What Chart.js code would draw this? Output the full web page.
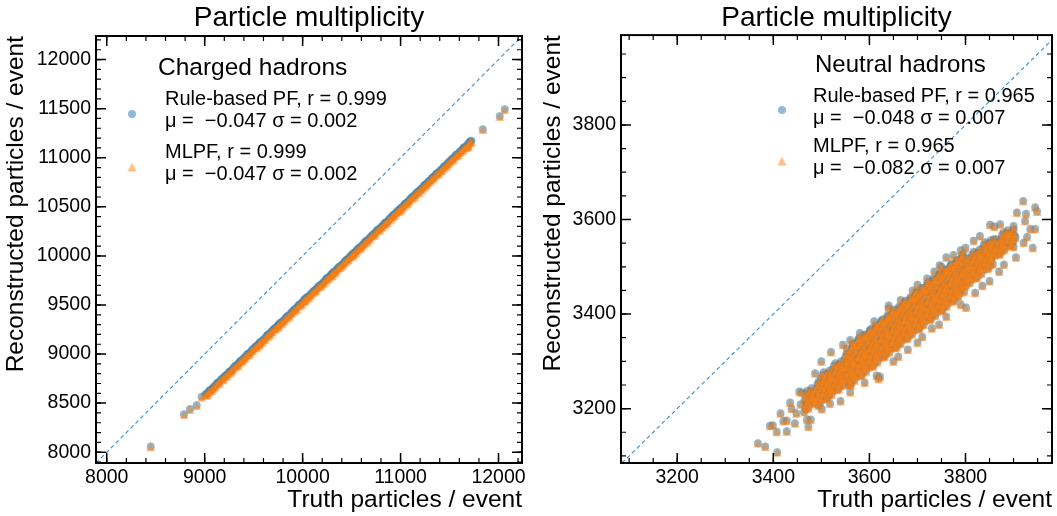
<!DOCTYPE html>
<html>
<head>
<meta charset="utf-8">
<script src="https://cdn.jsdelivr.net/npm/chart.js@4.4.1/dist/chart.umd.min.js"></script>
<style>
  html, body { margin: 0; padding: 0; background: #fff; }
  #wrap { position: relative; width: 1057px; height: 516px; }
  canvas { position: absolute; top: 0; }
  #c1 { left: 0; }
  #c2 { left: 530px; }
</style>
</head>
<body>
<div id="wrap">
  <canvas id="c1" width="530" height="516"></canvas>
  <canvas id="c2" width="527" height="516"></canvas>
</div>
<script>
// --- Data: charged hadrons (truth vs reconstructed, per event) ---
const chTruth = [
  8449, 8789, 8850, 8918, 8969,
  9005, 9030, 9052, 9078, 9104, 9131, 9150, 9181, 9203, 9228, 9257, 9279,
  9306, 9332, 9355, 9377, 9402, 9428, 9451, 9480, 9506, 9529, 9555, 9578,
  9604, 9631, 9653, 9680, 9705, 9727, 9754, 9779, 9803, 9830, 9852, 9878,
  9906, 9928, 9955, 9980, 10004, 10031, 10053, 10077, 10105, 10128, 10156, 10179,
  10203, 10231, 10252, 10280, 10306, 10329, 10354, 10378, 10402, 10430, 10455, 10479,
  10505, 10528, 10553, 10580, 10604, 10630, 10652, 10677, 10706, 10729, 10755, 10778,
  10803, 10831, 10852, 10879, 10905, 10928, 10954, 10981, 11003, 11030, 11055, 11078,
  11106, 11129, 11152, 11180, 11203, 11231, 11253, 11278, 11305, 11330, 11356, 11377,
  11404, 11429, 11452, 11479, 11506, 11530, 11555, 11576, 11603, 11631, 11650, 11680,
  11706, 11724, 11840, 12013, 12064,
  9560, 10020, 10510, 11000, 11690, 10300, 9750,
  9017, 9042, 9066, 9091, 9117, 9142, 9166, 9191, 9217, 9242, 9266, 9291,
  9317, 9342, 9366, 9391, 9417, 9442, 9466, 9491, 9517, 9542, 9566, 9591,
  9617, 9642, 9666, 9691, 9717, 9742, 9766, 9791, 9817, 9842, 9866, 9891,
  9917, 9942, 9966, 9991, 10017, 10042, 10066, 10091, 10117, 10142, 10166, 10191,
  10217, 10242, 10266, 10291, 10317, 10342, 10366, 10391, 10417, 10442, 10466, 10491,
  10517, 10542, 10566, 10591, 10617, 10642, 10666, 10691, 10717, 10742, 10766, 10791,
  10817, 10842, 10866, 10891, 10917, 10942, 10966, 10991, 11017, 11042, 11066, 11091,
  11117, 11142, 11166, 11191, 11217, 11242, 11266, 11291, 11317, 11342, 11366, 11391,
  11417, 11442, 11466, 11491, 11517, 11542, 11566, 11591, 11617, 11642, 11666, 11691,
  11715
];
const chRecoPF = [
  8057, 8387, 8441, 8478, 8566,
  8588, 8597, 8630, 8647, 8670, 8708, 8718, 8750, 8775, 8789, 8821, 8838,
  8872, 8886, 8916, 8934, 8962, 8990, 9005, 9039, 9062, 9079, 9110, 9124,
  9150, 9184, 9201, 9230, 9253, 9268, 9298, 9320, 9340, 9372, 9386, 9416,
  9443, 9460, 9492, 9510, 9538, 9557, 9583, 9605, 9632, 9652, 9680, 9702,
  9721, 9752, 9776, 9796, 9826, 9840, 9869, 9888, 9911, 9944, 9962, 9989,
  10015, 10030, 10058, 10084, 10104, 10133, 10153, 10175, 10206, 10222, 10253, 10272,
  10296, 10324, 10339, 10369, 10390, 10416, 10440, 10462, 10489, 10511, 10536, 10553,
  10586, 10605, 10629, 10654, 10680, 10702, 10725, 10750, 10771, 10800, 10824, 10840,
  10870, 10889, 10916, 10940, 10962, 10990, 11012, 11030, 11060, 11080, 11106, 11127,
  11160, 11172, 11291, 11423, 11494,
  9098, 9560, 10005, 10478, 11112, 9805, 9285,
  8590, 8622, 8634, 8666, 8692, 8710, 8741, 8754, 8781, 8813, 8825, 8857,
  8883, 8901, 8932, 8945, 8971, 9003, 9015, 9047, 9074, 9092, 9123, 9136,
  9162, 9194, 9206, 9238, 9264, 9282, 9313, 9326, 9352, 9384, 9396, 9428,
  9455, 9473, 9504, 9517, 9543, 9575, 9587, 9619, 9645, 9663, 9694, 9707,
  9734, 9766, 9778, 9810, 9836, 9854, 9885, 9898, 9924, 9956, 9968, 10000,
  10027, 10045, 10076, 10089, 10115, 10147, 10159, 10191, 10217, 10235, 10266, 10279,
  10305, 10337, 10349, 10381, 10408, 10426, 10457, 10470, 10496, 10528, 10540, 10572,
  10598, 10616, 10647, 10660, 10687, 10719, 10731, 10763, 10789, 10807, 10838, 10851,
  10877, 10909, 10921, 10953, 10980, 10998, 11029, 11042, 11068, 11100, 11112, 11144,
  11166
];
const chRecoML = [
  8055, 8383, 8436, 8475, 8560,
  8584, 8590, 8628, 8641, 8667, 8700, 8713, 8746, 8769, 8786, 8814, 8834,
  8867, 8882, 8909, 8930, 8957, 8986, 8999, 9034, 9058, 9072, 9106, 9119,
  9146, 9177, 9197, 9224, 9249, 9262, 9294, 9313, 9336, 9365, 9382, 9411,
  9439, 9453, 9488, 9505, 9534, 9550, 9579, 9600, 9628, 9645, 9676, 9697,
  9717, 9745, 9772, 9791, 9822, 9833, 9865, 9883, 9907, 9937, 9958, 9984,
  10011, 10023, 10054, 10079, 10100, 10126, 10149, 10170, 10202, 10215, 10249, 10267,
  10292, 10317, 10335, 10364, 10386, 10409, 10436, 10457, 10485, 10504, 10532, 10548,
  10582, 10598, 10625, 10649, 10676, 10695, 10721, 10745, 10767, 10793, 10820, 10835,
  10866, 10882, 10912, 10935, 10958, 10983, 11008, 11025, 11056, 11073, 11102, 11122,
  11156, 11165, 11288, 11420, 11490,
  9094, 9553, 10001, 10473, 11108, 9800, 9281,
  8583, 8612, 8628, 8657, 8685, 8700, 8735, 8745, 8774, 8803, 8819, 8848,
  8876, 8891, 8926, 8936, 8964, 8993, 9009, 9038, 9067, 9082, 9117, 9127,
  9155, 9184, 9200, 9229, 9257, 9272, 9307, 9317, 9345, 9374, 9390, 9419,
  9448, 9463, 9498, 9508, 9536, 9565, 9581, 9610, 9638, 9653, 9688, 9698,
  9727, 9756, 9772, 9801, 9829, 9844, 9879, 9889, 9917, 9946, 9962, 9991,
  10020, 10035, 10070, 10080, 10108, 10137, 10153, 10182, 10210, 10225, 10260, 10270,
  10298, 10327, 10343, 10372, 10401, 10416, 10451, 10461, 10489, 10518, 10534, 10563,
  10591, 10606, 10641, 10651, 10680, 10709, 10725, 10754, 10782, 10797, 10832, 10842,
  10870, 10899, 10915, 10944, 10973, 10988, 11023, 11033, 11061, 11090, 11106, 11135,
  11158
];
const chRange = [7890, 12240];
const chXTicks = [8000, 9000, 10000, 11000, 12000];
const chYTicks = [8000, 8500, 9000, 9500, 10000, 10500, 11000, 11500, 12000];

// --- Data: neutral hadrons, [truth, reco]; PF and MLPF clouds coincide at this scale ---
const nhPoints = [
  // dense band
  [3464,3193],[3467,3206],[3465,3219],[3468,3232],
  [3476,3209],[3479,3223],[3477,3237],
  [3488,3213],[3491,3226],[3489,3239],[3492,3252],
  [3500,3219],[3503,3232],[3501,3245],[3504,3258],[3502,3271],
  [3512,3222],[3515,3235],[3513,3248],[3516,3261],[3514,3274],
  [3524,3238],[3527,3251],[3525,3264],[3528,3277],[3526,3290],
  [3536,3242],[3539,3255],[3537,3268],[3540,3281],[3538,3294],
  [3548,3258],[3551,3271],[3549,3284],[3552,3297],[3550,3310],
  [3560,3252],[3563,3265],[3561,3278],[3564,3291],[3562,3304],[3559,3317],[3565,3330],
  [3572,3268],[3575,3281],[3573,3294],[3576,3307],[3574,3320],[3571,3333],[3577,3344],
  [3584,3271],[3587,3284],[3585,3297],[3588,3310],[3586,3323],[3583,3336],[3589,3349],
  [3596,3287],[3599,3300],[3597,3313],[3600,3326],[3598,3339],[3595,3352],[3601,3363],
  [3608,3291],[3611,3304],[3609,3317],[3612,3330],[3610,3343],[3607,3356],[3613,3369],
  [3620,3307],[3623,3320],[3621,3333],[3624,3346],[3622,3359],[3619,3372],[3625,3383],
  [3632,3311],[3635,3324],[3633,3337],[3636,3350],[3634,3363],[3631,3376],[3637,3389],
  [3644,3327],[3647,3340],[3645,3353],[3648,3366],[3646,3379],[3643,3392],[3649,3403],
  [3656,3330],[3659,3343],[3657,3356],[3660,3369],[3658,3382],[3655,3395],[3661,3408],
  [3668,3346],[3671,3359],[3669,3372],[3672,3385],[3670,3398],[3667,3411],[3673,3422],
  [3680,3350],[3683,3363],[3681,3376],[3684,3389],[3682,3402],[3679,3415],[3685,3428],
  [3692,3366],[3695,3379],[3693,3392],[3696,3405],[3694,3418],[3691,3431],[3697,3442],
  [3704,3370],[3707,3383],[3705,3396],[3708,3409],[3706,3422],[3703,3435],[3709,3448],
  [3716,3386],[3719,3399],[3717,3412],[3720,3425],[3718,3438],[3715,3451],[3721,3462],
  [3728,3390],[3731,3403],[3729,3416],[3732,3429],[3730,3442],[3727,3455],[3733,3468],
  [3740,3405],[3743,3418],[3741,3431],[3744,3444],[3742,3457],[3739,3470],[3745,3481],
  [3752,3409],[3755,3422],[3753,3435],[3756,3448],[3754,3461],[3751,3474],[3757,3487],
  [3764,3425],[3767,3438],[3765,3451],[3768,3464],[3766,3477],[3763,3490],[3769,3501],
  [3776,3429],[3779,3442],[3777,3455],[3780,3468],[3778,3481],[3775,3494],[3781,3507],
  [3788,3445],[3791,3458],[3789,3471],[3792,3484],[3790,3497],[3787,3510],[3793,3521],
  [3800,3459],[3803,3472],[3801,3485],[3804,3498],[3802,3511],
  [3812,3474],[3815,3487],[3813,3500],[3816,3513],[3814,3526],
  [3824,3478],[3827,3491],[3825,3504],[3828,3517],[3826,3530],
  [3836,3494],[3839,3507],[3837,3520],[3840,3533],[3838,3546],
  [3848,3498],[3851,3511],[3849,3524],[3852,3537],[3850,3550],
  [3860,3524],[3863,3538],[3861,3552],
  [3872,3528],[3875,3541],[3873,3554],[3876,3567],
  [3884,3543],[3887,3557],[3885,3571],
  [3896,3547],[3899,3560],[3897,3573],[3900,3586],
  [3473,3201],[3470,3214],[3474,3227],
  [3485,3211],[3482,3224],[3486,3237],
  [3497,3211],[3494,3224],[3498,3237],[3495,3250],[3499,3263],
  [3509,3221],[3506,3234],[3510,3247],[3507,3260],[3511,3273],
  [3521,3230],[3518,3243],[3522,3256],[3519,3269],[3523,3282],
  [3533,3240],[3530,3253],[3534,3266],[3531,3279],[3535,3292],
  [3545,3250],[3542,3263],[3546,3276],[3543,3289],[3547,3302],
  [3557,3250],[3554,3263],[3558,3276],[3555,3289],[3559,3302],[3556,3315],[3553,3327],
  [3569,3260],[3566,3273],[3570,3286],[3567,3299],[3571,3312],[3568,3325],[3565,3337],
  [3581,3270],[3578,3283],[3582,3296],[3579,3309],[3583,3322],[3580,3335],[3577,3347],
  [3593,3279],[3590,3292],[3594,3305],[3591,3318],[3595,3331],[3592,3344],[3589,3356],
  [3605,3289],[3602,3302],[3606,3315],[3603,3328],[3607,3341],[3604,3354],[3601,3366],
  [3617,3299],[3614,3312],[3618,3325],[3615,3338],[3619,3351],[3616,3364],[3613,3376],
  [3629,3309],[3626,3322],[3630,3335],[3627,3348],[3631,3361],[3628,3374],[3625,3386],
  [3641,3319],[3638,3332],[3642,3345],[3639,3358],[3643,3371],[3640,3384],[3637,3396],
  [3653,3329],[3650,3342],[3654,3355],[3651,3368],[3655,3381],[3652,3394],[3649,3406],
  [3665,3338],[3662,3351],[3666,3364],[3663,3377],[3667,3390],[3664,3403],[3661,3415],
  [3677,3348],[3674,3361],[3678,3374],[3675,3387],[3679,3400],[3676,3413],[3673,3425],
  [3689,3358],[3686,3371],[3690,3384],[3687,3397],[3691,3410],[3688,3423],[3685,3435],
  [3701,3368],[3698,3381],[3702,3394],[3699,3407],[3703,3420],[3700,3433],[3697,3445],
  [3713,3378],[3710,3391],[3714,3404],[3711,3417],[3715,3430],[3712,3443],[3709,3455],
  [3725,3388],[3722,3401],[3726,3414],[3723,3427],[3727,3440],[3724,3453],[3721,3465],
  [3737,3397],[3734,3410],[3738,3423],[3735,3436],[3739,3449],[3736,3462],[3733,3474],
  [3749,3407],[3746,3420],[3750,3433],[3747,3446],[3751,3459],[3748,3472],[3745,3484],
  [3761,3417],[3758,3430],[3762,3443],[3759,3456],[3763,3469],[3760,3482],[3757,3494],
  [3773,3427],[3770,3440],[3774,3453],[3771,3466],[3775,3479],[3772,3492],[3769,3504],
  [3785,3437],[3782,3450],[3786,3463],[3783,3476],[3787,3489],[3784,3502],[3781,3514],
  [3797,3447],[3794,3460],[3798,3473],[3795,3486],[3799,3499],[3796,3512],[3793,3524],
  [3809,3467],[3806,3480],[3810,3493],[3807,3506],[3811,3519],
  [3821,3476],[3818,3489],[3822,3502],[3819,3515],[3823,3528],
  [3833,3486],[3830,3499],[3834,3512],[3831,3525],[3835,3538],
  [3845,3496],[3842,3509],[3846,3522],[3843,3535],[3847,3548],
  [3857,3506],[3854,3519],[3858,3532],[3855,3545],[3859,3558],
  [3869,3526],[3866,3539],[3870,3552],
  [3881,3536],[3878,3549],[3882,3562],
  [3893,3545],[3890,3558],[3894,3571],
  [3467,3199],[3470,3212],[3468,3225],[3471,3238],
  [3479,3215],[3482,3229],[3480,3243],
  [3491,3219],[3494,3232],[3492,3245],[3495,3258],
  [3503,3225],[3506,3238],[3504,3251],[3507,3264],[3505,3277],
  [3515,3228],[3518,3241],[3516,3254],[3519,3267],[3517,3280],
  [3527,3244],[3530,3257],[3528,3270],[3531,3283],[3529,3296],
  [3539,3248],[3542,3261],[3540,3274],[3543,3287],[3541,3300],
  [3551,3264],[3554,3277],[3552,3290],[3555,3303],[3553,3316],
  [3563,3258],[3566,3271],[3564,3284],[3567,3297],[3565,3310],[3562,3323],[3568,3336],
  [3575,3274],[3578,3287],[3576,3300],[3579,3313],[3577,3326],[3574,3339],[3580,3350],
  [3587,3277],[3590,3290],[3588,3303],[3591,3316],[3589,3329],[3586,3342],[3592,3355],
  [3599,3293],[3602,3306],[3600,3319],[3603,3332],[3601,3345],[3598,3358],[3604,3369],
  [3611,3297],[3614,3310],[3612,3323],[3615,3336],[3613,3349],[3610,3362],[3616,3375],
  [3623,3313],[3626,3326],[3624,3339],[3627,3352],[3625,3365],[3622,3378],[3628,3389],
  [3635,3317],[3638,3330],[3636,3343],[3639,3356],[3637,3369],[3634,3382],[3640,3395],
  [3647,3333],[3650,3346],[3648,3359],[3651,3372],[3649,3385],[3646,3398],[3652,3409],
  [3659,3336],[3662,3349],[3660,3362],[3663,3375],[3661,3388],[3658,3401],[3664,3414],
  [3671,3352],[3674,3365],[3672,3378],[3675,3391],[3673,3404],[3670,3417],[3676,3428],
  [3683,3356],[3686,3369],[3684,3382],[3687,3395],[3685,3408],[3682,3421],[3688,3434],
  [3695,3372],[3698,3385],[3696,3398],[3699,3411],[3697,3424],[3694,3437],[3700,3448],
  [3707,3376],[3710,3389],[3708,3402],[3711,3415],[3709,3428],[3706,3441],[3712,3454],
  [3719,3392],[3722,3405],[3720,3418],[3723,3431],[3721,3444],[3718,3457],[3724,3468],
  [3731,3396],[3734,3409],[3732,3422],[3735,3435],[3733,3448],[3730,3461],[3736,3474],
  [3743,3411],[3746,3424],[3744,3437],[3747,3450],[3745,3463],[3742,3476],[3748,3487],
  [3755,3415],[3758,3428],[3756,3441],[3759,3454],[3757,3467],[3754,3480],[3760,3493],
  [3767,3431],[3770,3444],[3768,3457],[3771,3470],[3769,3483],[3766,3496],[3772,3507],
  [3779,3435],[3782,3448],[3780,3461],[3783,3474],[3781,3487],[3778,3500],[3784,3513],
  [3791,3451],[3794,3464],[3792,3477],[3795,3490],[3793,3503],[3790,3516],[3796,3527],
  [3803,3465],[3806,3478],[3804,3491],[3807,3504],[3805,3517],
  [3815,3480],[3818,3493],[3816,3506],[3819,3519],[3817,3532],
  [3827,3484],[3830,3497],[3828,3510],[3831,3523],[3829,3536],
  [3839,3500],[3842,3513],[3840,3526],[3843,3539],[3841,3552],
  [3851,3504],[3854,3517],[3852,3530],[3855,3543],[3853,3556],
  [3863,3530],[3866,3544],[3864,3558],
  [3875,3534],[3878,3547],[3876,3560],[3879,3573],
  [3887,3549],[3890,3563],[3888,3577],
  [3899,3553],[3902,3566],[3900,3579],
  // scattered events, low end
  [3368,3127],[3383,3120],[3408,3108],[3399,3165],[3407,3151],[3421,3174],[3428,3152],
  [3445,3169],[3435,3213],[3454,3236],[3470,3177],[3473,3162],[3438,3200],[3457,3209],
  [3494,3206],[3501,3199],[3518,3211],[3540,3216],[3428,3175],[3478,3177],[3393,3164],
  [3459,3234],[3483,3220],[3561,3250],[3619,3263],[3448,3190],[3415,3190],
  // scattered events, high end
  [3920,3639],[3945,3626],[3949,3617],[3907,3615],[3926,3612],[3924,3597],[3935,3580],
  [3945,3580],[3928,3563],[3940,3540],[3921,3551],[3900,3542],[3904,3562],[3890,3569],
  [3872,3590],[3851,3589],[3817,3555],[3760,3520],[3746,3503],[3801,3414],[3640,3418],
  [3622,3268],[3487,3275],
  // band edges
  [3560,3235],[3590,3255],[3615,3270],[3650,3300],[3680,3325],[3700,3340],[3730,3370],
  [3760,3395],[3790,3420],[3820,3445],[3850,3470],[3880,3505],[3660,3310],[3710,3352],
  [3745,3378],[3835,3460],[3870,3490],[3905,3520],
  [3520,3320],[3545,3335],[3580,3360],[3610,3385],[3640,3412],[3665,3430],[3690,3450],
  [3720,3475],[3750,3500],[3775,3525],[3800,3540],[3830,3565],[3860,3585],[3500,3300],
  [3560,3345],[3700,3462],[3735,3490],[3790,3535]
];
const nhXRange = [3083, 3980];
const nhYRange = [3085, 3990];
const nhTicks = [3200, 3400, 3600, 3800];

// --- Style ---
const FONT = "'Liberation Sans', Arial, Helvetica, sans-serif";
const BLUE = "rgba(31,119,180,0.5)";
const ORANGE = "rgba(255,127,14,0.5)";
const TRI = 9; // triangle marker: base = height, like matplotlib '^'

function triangleMarker(size, color) {
  const c = document.createElement("canvas");
  c.width = c.height = size + 2;
  const g = c.getContext("2d");
  g.fillStyle = color;
  g.beginPath();
  g.moveTo(1 + size / 2, 1);
  g.lineTo(1 + size, 1 + size);
  g.lineTo(1, 1 + size);
  g.closePath();
  g.fill();
  return c;
}
const triImg = triangleMarker(TRI, ORANGE);

// inward major/minor ticks on all four sides + frame
const framePlugin = {
  id: "frame",
  afterDatasetsDraw(chart, args, opts) {
    const { ctx, chartArea: a, scales } = chart;
    ctx.save();
    ctx.strokeStyle = "#000";
    const tick = (s, v, len) => {
      const p = s.getPixelForValue(v);
      ctx.beginPath();
      if (s.isHorizontal()) {
        ctx.moveTo(p, a.bottom); ctx.lineTo(p, a.bottom - len);
        ctx.moveTo(p, a.top); ctx.lineTo(p, a.top + len);
      } else {
        ctx.moveTo(a.left, p); ctx.lineTo(a.left + len, p);
        ctx.moveTo(a.right, p); ctx.lineTo(a.right - len, p);
      }
      ctx.stroke();
    };
    for (const [id, step] of [["x", opts.xMinor], ["y", opts.yMinor]]) {
      const s = scales[id];
      ctx.lineWidth = 1.2;
      for (let v = Math.ceil(s.min / step) * step; v <= s.max; v += step) tick(s, v, 5);
      ctx.lineWidth = 1.5;
      s.ticks.forEach((t) => tick(s, t.value, 10));
    }
    ctx.lineWidth = 2;
    ctx.strokeRect(a.left, a.top, a.right - a.left, a.bottom - a.top);
    ctx.restore();
  },
};

// legend with title and two-line entries, placed relative to the chart area
const legendPlugin = {
  id: "legendBox",
  afterDraw(chart, args, o) {
    const { ctx, chartArea: a } = chart;
    ctx.save();
    ctx.fillStyle = "#000";
    ctx.textBaseline = "alphabetic";
    ctx.textAlign = "left";
    ctx.font = `${o.titleSize}px ${FONT}`;
    ctx.fillText(o.title, a.left + o.titleX, a.top + o.titleY);
    ctx.font = `20px ${FONT}`;
    o.entries.forEach((e) => {
      e.lines.forEach((t, i) => ctx.fillText(t, a.left + o.textX, a.top + e.y + i * 21.5));
      const mx = a.left + o.markX, my = a.top + e.my;
      if (e.style === "triangle") {
        ctx.drawImage(triImg, mx - triImg.width / 2, my - triImg.height / 2);
      } else {
        ctx.fillStyle = e.color;
        ctx.beginPath();
        ctx.arc(mx, my, 4, 0, Math.PI * 2);
        ctx.fill();
        ctx.fillStyle = "#000";
      }
    });
    ctx.restore();
  },
};

function makeChart(id, c) {
  const tickFont = { family: FONT, size: 19.5 };
  const titleFont = { family: FONT, size: 24.5 };
  return new Chart(document.getElementById(id), {
    type: "scatter",
    data: {
      datasets: [
        { label: "Rule-based PF", data: c.pf, backgroundColor: BLUE, pointRadius: 4, borderWidth: 0, order: 3 },
        { label: "MLPF", data: c.ml, pointStyle: triImg, pointRadius: 4.5, borderWidth: 0, order: 2 },
        {
          label: "diag", data: c.diag.map((v) => ({ x: v, y: v })), showLine: true, pointRadius: 0,
          borderColor: "#3b8bc9", borderWidth: 1.1, borderDash: [4, 3], order: 1,
        },
      ],
    },
    options: {
      responsive: false,
      animation: false,
      events: [],
      layout: { padding: { top: 0, right: c.padRight, left: 0, bottom: 0 } },
      plugins: {
        legend: { display: false },
        tooltip: { enabled: false },
        title: {
          display: true, text: "Particle multiplicity", fullSize: false, color: "#000",
          font: { family: FONT, size: 28, weight: "normal" },
          padding: { top: 1.5, bottom: Math.max(0, c.top - 1.5 - 28 * 1.2) },
        },
        frame: { xMinor: c.xMinor, yMinor: c.yMinor },
        legendBox: c.legend,
      },
      scales: {
        x: {
          type: "linear", min: c.xRange[0], max: c.xRange[1],
          grid: { display: false, drawTicks: false }, border: { display: false },
          afterBuildTicks: (s) => { s.ticks = c.xTicks.map((v) => ({ value: v })); },
          afterFit: (s) => { s.height = 53; },
          ticks: { color: "#000", font: tickFont, padding: 3, maxRotation: 0, callback: (v) => String(v) },
          title: {
            display: true, text: "Truth particles / event", align: "end", color: "#000",
            font: titleFont, padding: { top: 0, bottom: 1 },
          },
        },
        y: {
          type: "linear", min: c.yRange[0], max: c.yRange[1],
          grid: { display: false, drawTicks: false }, border: { display: false },
          afterBuildTicks: (s) => { s.ticks = c.yTicks.map((v) => ({ value: v })); },
          afterFit: (s) => { s.width = c.yWidth; },
          ticks: { color: "#000", font: tickFont, padding: 5, callback: (v) => String(v) },
          title: {
            display: true, text: "Reconstructed particles / event", align: "end", color: "#000",
            font: titleFont, padding: { top: c.yTitlePad, bottom: 0 },
          },
        },
      },
    },
    plugins: [framePlugin, legendPlugin],
  });
}

makeChart("c1", {
  pf: chTruth.map((t, i) => ({ x: t, y: chRecoPF[i] })),
  ml: chTruth.map((t, i) => ({ x: t, y: chRecoML[i] })),
  diag: chRange,
  xRange: chRange, yRange: chRange,
  xTicks: chXTicks, yTicks: chYTicks,
  xMinor: 200, yMinor: 100,
  top: 36, padRight: 8, yWidth: 96, yTitlePad: 2,
  legend: {
    title: "Charged hadrons", titleSize: 24.5, titleX: 62, titleY: 39, textX: 69, markX: 36,
    entries: [
      { lines: ["Rule-based PF, r = 0.999", "\u03bc =  \u22120.047 \u03c3 = 0.002"], y: 69, my: 78, color: BLUE, style: "circle" },
      { lines: ["MLPF, r = 0.999", "\u03bc =  \u22120.047 \u03c3 = 0.002"], y: 122, my: 131, color: ORANGE, style: "triangle" },
    ],
  },
});

makeChart("c2", {
  pf: nhPoints.map((p) => ({ x: p[0], y: p[1] })),
  ml: nhPoints.map((p) => ({ x: p[0], y: p[1] })),
  diag: [nhYRange[0], nhXRange[1]],
  xRange: nhXRange, yRange: nhYRange,
  xTicks: nhTicks, yTicks: nhTicks,
  xMinor: 50, yMinor: 50,
  top: 35, padRight: 5, yWidth: 91, yTitlePad: 9,
  legend: {
    title: "Neutral hadrons", titleSize: 24, titleX: 194, titleY: 37, textX: 192, markX: 161,
    entries: [
      { lines: ["Rule-based PF, r = 0.965", "\u03bc =  \u22120.048 \u03c3 = 0.007"], y: 67, my: 75, color: BLUE, style: "circle" },
      { lines: ["MLPF, r = 0.965", "\u03bc =  \u22120.082 \u03c3 = 0.007"], y: 117, my: 126, color: ORANGE, style: "triangle" },
    ],
  },
});
</script>
</body>
</html>
